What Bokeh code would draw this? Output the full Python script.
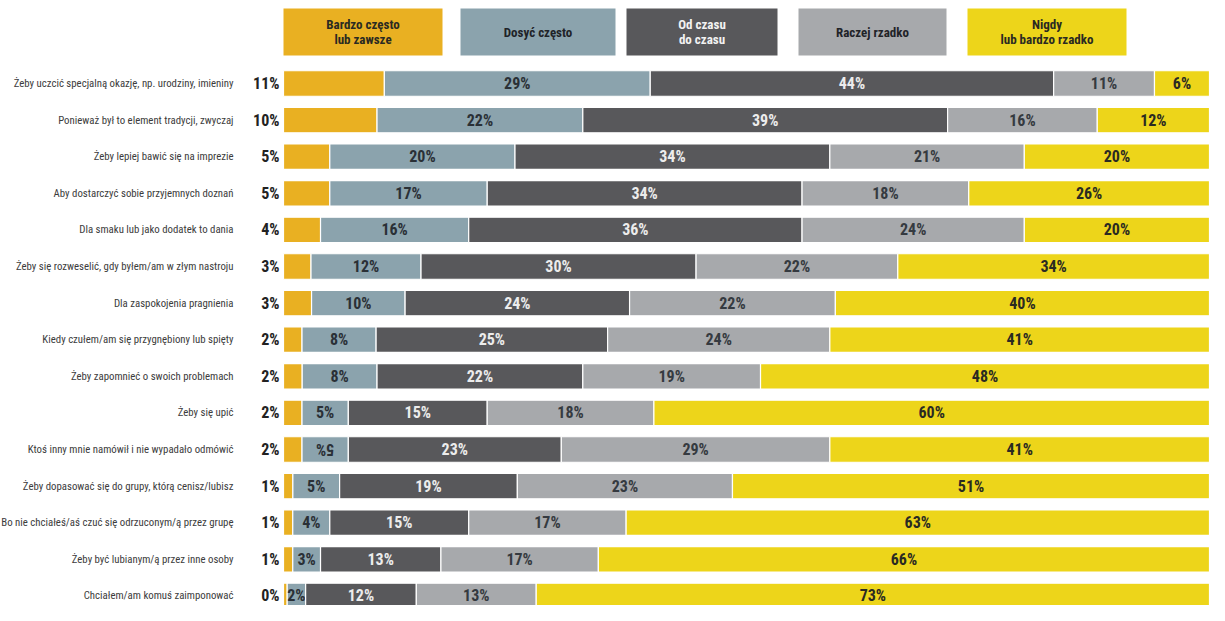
import math
from bokeh.plotting import figure
from bokeh.models import Range1d, ColumnDataSource
from bokeh.core.properties import value
from bokeh.embed import file_html
from bokeh.resources import INLINE

# ---------------- data ----------------
categories = [
    "Żeby uczcić specjalną okazję, np. urodziny, imieniny",
    "Ponieważ był to element tradycji, zwyczaj",
    "Żeby lepiej bawić się na imprezie",
    "Aby dostarczyć sobie przyjemnych doznań",
    "Dla smaku lub jako dodatek to dania",
    "Żeby się rozweselić, gdy byłem/am w złym nastroju",
    "Dla zaspokojenia pragnienia",
    "Kiedy czułem/am się przygnębiony lub spięty",
    "Żeby zapomnieć o swoich problemach",
    "Żeby się upić",
    "Ktoś inny mnie namówił i nie wypadało odmówić",
    "Żeby dopasować się do grupy, którą cenisz/lubisz",
    "Bo nie chciałeś/aś czuć się odrzuconym/ą przez grupę",
    "Żeby być lubianym/ą przez inne osoby",
    "Chciałem/am komuś zaimponować",
]
series_names = ["Bardzo często\nlub zawsze", "Dosyć często", "Od czasu\ndo czasu",
                "Raczej rzadko", "Nigdy\nlub bardzo rzadko"]
always    = [11, 10, 5, 5, 4, 3, 3, 2, 2, 2, 2, 1, 1, 1, 0.4]
often     = [29, 22, 20, 17, 16, 12, 10, 8, 8, 5, 5, 5, 4, 3, 2]
sometimes = [44, 39, 34, 34, 36, 30, 24, 25, 22, 15, 23, 19, 15, 13, 12]
rarely    = [11, 16, 21, 18, 24, 22, 22, 24, 19, 18, 29, 23, 17, 17, 13]
never     = [6, 12, 20, 26, 20, 34, 40, 41, 48, 60, 41, 51, 63, 66, 73]

# ---------------- style ----------------
colors = ["#E9B022", "#8BA3AD", "#58585B", "#A7A9AC", "#EDD51A"]
in_text_colors = [None, "#2A3036", "#ECECEC", "#353A40", "#2A2A22"]
legend_text_colors = ["#2A2A22", "#1F2328", "#F2F2F2", "#1F2328", "#2A2A22"]
COND = value("Roboto Condensed")

W, H = 1209, 605
BAR_LEFT_PX = 283          # figure px where 0 % sits
PX_PER_PCT = (W - BAR_LEFT_PX) / 100.0
ROW0_PX = 83               # figure px of first row centre
ROW_STEP = 36.6            # px between rows

def px2x(px):
    return (px - BAR_LEFT_PX) / PX_PER_PCT

def px2y(py):
    return (py - ROW0_PX) / ROW_STEP

p = figure(width=W, height=H, output_backend="svg", toolbar_location=None,
           x_range=Range1d(px2x(0), px2x(W)), y_range=Range1d(px2y(H), px2y(0)),
           min_border=0)
p.axis.visible = False
p.grid.visible = False
p.outline_line_color = None
p.background_fill_color = "white"

series = [always, often, sometimes, rarely, never]
n = len(categories)
rows = list(range(n))
totals = [sum(s[i] for s in series) for i in rows]

cum = [0.0] * n
bar_h = 25.5 / ROW_STEP
for k, s in enumerate(series):
    left = [cum[i] / totals[i] * 100 for i in rows]
    right = [(cum[i] + s[i]) / totals[i] * 100 for i in rows]
    src = ColumnDataSource(dict(left=left, right=right, y=rows,
                                mid=[(l + r) / 2 for l, r in zip(left, right)],
                                lab=[f"{round(v)}%" for v in s],
                                ang=[math.pi if (k == 1 and i == 10) else 0 for i in rows]))
    p.hbar(y="y", left="left", right="right", height=bar_h, source=src,
           fill_color=colors[k], line_color="white", line_width=1.2)
    if k > 0:
        p.text(x="mid", y="y", text="lab", angle="ang", source=src,
               text_align="center", text_baseline="middle",
               text_font=COND, text_font_style="bold", text_font_size="16px",
               text_color=in_text_colors[k])
    cum = [cum[i] + s[i] for i in rows]

# left-hand percentage (first series) and category labels
p.text(x=[px2x(279)] * n, y=rows, text=[f"{round(v)}%" for v in always],
       text_align="right", text_baseline="middle", text_font=COND,
       text_font_style="bold", text_font_size="16px", text_color="#222222")
p.text(x=[px2x(233)] * n, y=rows, text=categories,
       text_align="right", text_baseline="middle", text_font=COND,
       text_font_size="10.8px", text_color="#3C3C3C")

# legend boxes at the top
leg_px = [(283, 442), (460, 615), (626, 777), (798, 946), (967, 1126)]
leg_top, leg_bot = px2y(8), px2y(55)
p.quad(left=[px2x(a) for a, b in leg_px], right=[px2x(b) for a, b in leg_px],
       top=[leg_top] * 5, bottom=[leg_bot] * 5, fill_color=colors, line_color=None)
p.text(x=[px2x((a + b) / 2) for a, b in leg_px], y=[(leg_top + leg_bot) / 2] * 5,
       text=series_names, text_align="center", text_baseline="middle",
       text_font=COND, text_font_style="bold", text_font_size="13px",
       text_color=legend_text_colors, text_line_height=1.05)

open("out.html", "w").write(file_html(p, INLINE))
